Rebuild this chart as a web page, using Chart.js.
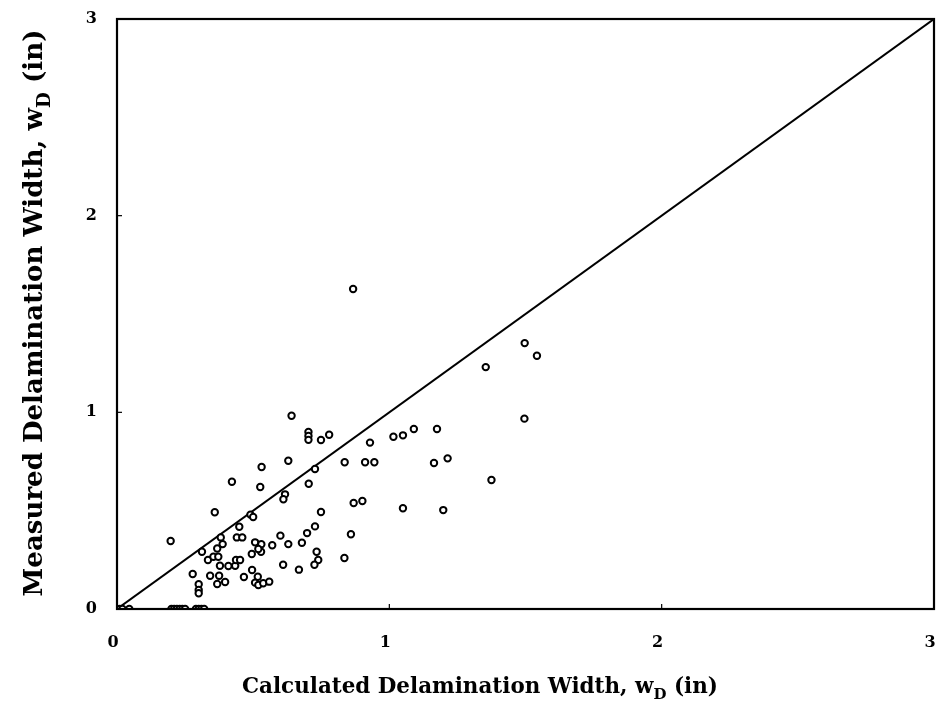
<!DOCTYPE html>
<html>
<head>
<meta charset="utf-8">
<script src="https://cdn.jsdelivr.net/npm/chart.js@4/dist/chart.umd.min.js"></script>
<style>
  html, body { margin: 0; padding: 0; background: #fff; }
  #wrap { width: 948px; height: 711px; position: relative; }
</style>
</head>
<body>
<div id="wrap"><canvas id="c"></canvas></div>
<script>
// Calculated delamination width (x) and measured delamination width (y), inches
const calcWidth = [
  0.00, 0.01, 0.02, 0.045, 0.20, 0.21, 0.22, 0.23, 0.24, 0.25, 0.29, 0.30, 0.31, 0.32,
  0.641, 0.703, 0.703, 0.703, 0.749, 0.779, 0.929, 1.015, 1.050, 1.090, 1.175,
  0.629, 0.531, 0.727, 0.836, 0.911, 0.945, 0.422, 0.526, 0.704, 0.617, 0.611,
  0.869, 0.901, 0.359, 0.490, 0.500, 0.749, 0.449, 0.727, 0.381, 0.440, 0.460,
  0.600, 0.698, 0.859, 0.197, 0.312, 0.368, 0.388, 0.507, 0.530, 0.529, 0.495,
  0.519, 0.570, 0.629, 0.679, 0.733, 0.739, 0.725, 0.835, 0.334, 0.354, 0.372,
  0.378, 0.409, 0.434, 0.437, 0.452, 0.610, 0.668, 0.278, 0.342, 0.375, 0.368,
  0.397, 0.466, 0.496, 0.517, 0.507, 0.519, 0.537, 0.559, 0.300, 0.300, 0.300,
  0.867, 1.497, 1.542, 1.354, 1.496, 1.164, 1.214, 1.375, 1.050, 1.198
];
const measWidth = [
  0, 0, 0, 0, 0, 0, 0, 0, 0, 0, 0, 0, 0, 0,
  0.983, 0.900, 0.880, 0.860, 0.859, 0.886, 0.846, 0.876, 0.883, 0.915, 0.915,
  0.754, 0.722, 0.712, 0.746, 0.746, 0.746, 0.647, 0.620, 0.637, 0.583, 0.558,
  0.539, 0.549, 0.492, 0.480, 0.468, 0.493, 0.418, 0.420, 0.364, 0.364, 0.364,
  0.373, 0.386, 0.380, 0.346, 0.291, 0.308, 0.330, 0.339, 0.329, 0.291, 0.280,
  0.305, 0.324, 0.330, 0.337, 0.291, 0.249, 0.225, 0.259, 0.249, 0.266, 0.266,
  0.220, 0.219, 0.220, 0.249, 0.249, 0.225, 0.200, 0.178, 0.169, 0.169, 0.127,
  0.137, 0.163, 0.198, 0.164, 0.134, 0.122, 0.131, 0.139, 0.126, 0.097, 0.080,
  1.627, 1.352, 1.288, 1.230, 0.968, 0.742, 0.766, 0.656, 0.512, 0.503
];
const equalityLine = [0, 3];
const tickValues = [0, 1, 2, 3];
const xTitleParts = ["Calculated Delamination Width, w", "D", " (in)"];
const yTitleParts = ["Measured Delamination Width, w", "D", " (in)"];

const scatterPoints = calcWidth.map((x, i) => ({ x: x, y: measWidth[i] }));
const linePoints = equalityLine.map(v => ({ x: v, y: v }));

const SERIF = '"DejaVu Serif", "Liberation Serif", serif';

function drawSubTitle(ctx, parts, targetWidth) {
  const base = 24;
  ctx.font = 'bold ' + base + 'px ' + SERIF;
  const w0 = ctx.measureText(parts[0]).width;
  ctx.font = 'bold ' + (base * 0.7) + 'px ' + SERIF;
  const w1 = ctx.measureText(parts[1]).width;
  ctx.font = 'bold ' + base + 'px ' + SERIF;
  const w2 = ctx.measureText(parts[2]).width;
  const s = targetWidth / (w0 + w1 + w2);
  const fs = base * s;
  let x = -targetWidth / 2;
  ctx.textBaseline = 'alphabetic';
  ctx.textAlign = 'left';
  ctx.font = 'bold ' + fs + 'px ' + SERIF;
  ctx.fillText(parts[0], x, 0);
  x += w0 * s;
  ctx.font = 'bold ' + (fs * 0.7) + 'px ' + SERIF;
  ctx.fillText(parts[1], x, fs * 0.3);
  x += w1 * s;
  ctx.font = 'bold ' + fs + 'px ' + SERIF;
  ctx.fillText(parts[2], x, 0);
}

const framePlugin = {
  id: 'frame',
  afterDatasetsDraw(chart) {
    const ctx = chart.ctx;
    const a = chart.chartArea;
    const xs = chart.scales.x, ys = chart.scales.y;
    ctx.save();
    ctx.strokeStyle = '#000';
    ctx.lineWidth = 2.2;
    ctx.strokeRect(a.left, a.top, a.right - a.left, a.bottom - a.top);
    ctx.lineWidth = 1.2;
    tickValues.forEach(v => {
      const px = xs.getPixelForValue(v);
      ctx.beginPath(); ctx.moveTo(px, a.bottom); ctx.lineTo(px, a.bottom - 5); ctx.stroke();
      const py = ys.getPixelForValue(v);
      ctx.beginPath(); ctx.moveTo(a.left, py); ctx.lineTo(a.left + 5, py); ctx.stroke();
    });
    ctx.restore();
  },
  afterDraw(chart) {
    const ctx = chart.ctx;
    ctx.save();
    ctx.fillStyle = '#000';
    ctx.translate(480, 693);
    drawSubTitle(ctx, xTitleParts, 476);
    ctx.restore();
    ctx.save();
    ctx.fillStyle = '#000';
    ctx.translate(42, 313);
    ctx.rotate(-Math.PI / 2);
    drawSubTitle(ctx, yTitleParts, 567);
    ctx.restore();
  }
};

function zeroPad(scale) {
  scale.paddingLeft = 0; scale.paddingRight = 0;
  scale.paddingTop = 0; scale.paddingBottom = 0;
}

new Chart(document.getElementById('c'), {
  type: 'scatter',
  data: {
    datasets: [
      {
        label: 'Measured vs calculated',
        data: scatterPoints,
        showLine: false,
        pointStyle: 'circle',
        pointRadius: 3.2,
        pointHoverRadius: 3.2,
        borderColor: '#000',
        backgroundColor: '#fff',
        borderWidth: 2
      },
      {
        type: 'line',
        label: 'Equality',
        data: linePoints,
        borderColor: '#000',
        borderWidth: 2,
        pointRadius: 0,
        fill: false,
        tension: 0
      }
    ]
  },
  options: {
    responsive: true,
    maintainAspectRatio: false,
    animation: false,
    layout: { padding: { left: 0, right: 14, top: 19, bottom: 0 } },
    plugins: {
      legend: { display: false },
      tooltip: { enabled: false }
    },
    scales: {
      x: {
        type: 'linear',
        min: 0, max: 3,
        afterBuildTicks(scale) { scale.ticks = tickValues.map(v => ({ value: v })); },
        afterFit(scale) { scale.height = 102; zeroPad(scale); },
        grid: { display: false, drawTicks: false },
        border: { display: false },
        ticks: {
          padding: 24,
          labelOffset: -4,
          color: '#000',
          font: { family: SERIF, weight: 'bold', size: 16 },
          callback: v => String(v)
        }
      },
      y: {
        type: 'linear',
        min: 0, max: 3,
        afterBuildTicks(scale) { scale.ticks = tickValues.map(v => ({ value: v })); },
        afterFit(scale) { scale.width = 117; zeroPad(scale); },
        grid: { display: false, drawTicks: false },
        border: { display: false },
        ticks: {
          padding: 20,
          color: '#000',
          font: { family: SERIF, weight: 'bold', size: 16 },
          callback: v => String(v)
        }
      }
    }
  },
  plugins: [framePlugin]
});
</script>
</body>
</html>
